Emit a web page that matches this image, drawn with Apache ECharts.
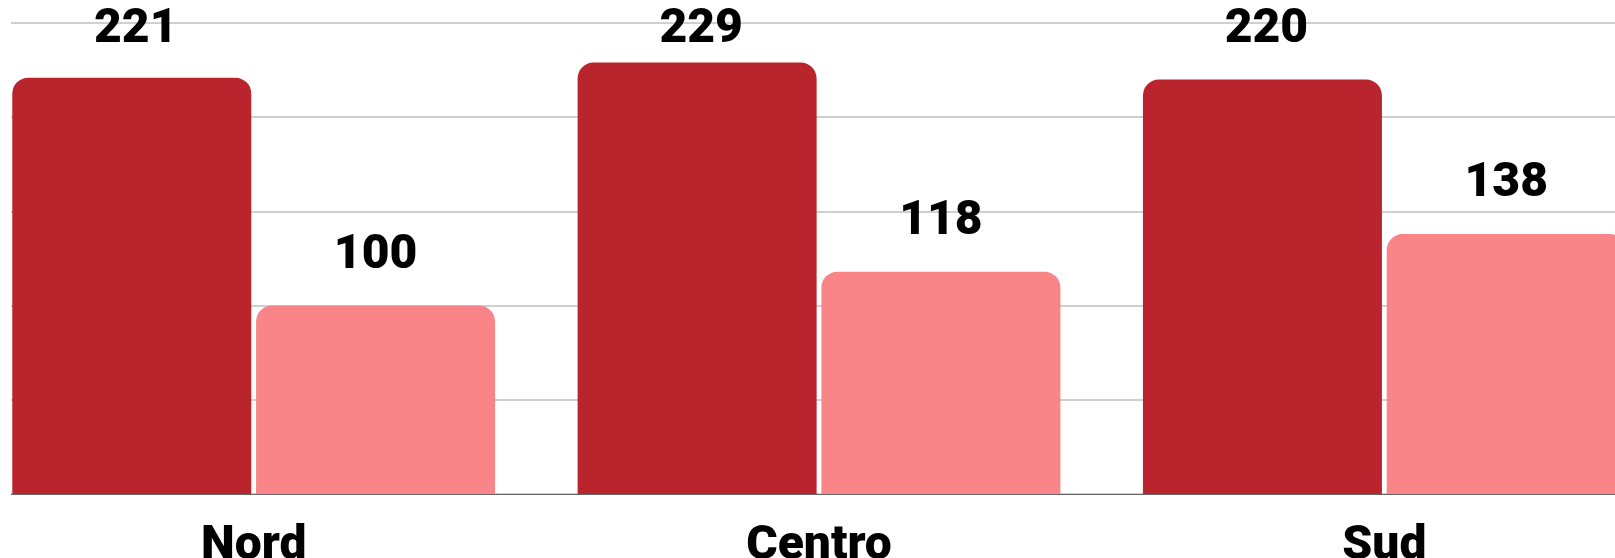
<!DOCTYPE html>
<html>
    <head>
        <meta charset="utf-8">
        <title>Nord Centro Sud</title>
        <script src="https://cdn.jsdelivr.net/npm/echarts@6/dist/echarts.min.js"></script>
        <style>
            html, body { margin: 0; padding: 0; background: #fff; overflow: hidden; }
            /* il grafico è tagliato ai lati come nell'originale */
            #wrap { position: absolute; left: 11px; top: 0; width: 1604px; height: 558px; overflow: hidden; }
            #chart1 { position: absolute; left: -40px; top: 0; width: 1696px; height: 558px; }
        </style>
    </head>
    <body>
        <div id="wrap">
            <div id="chart1"></div>
        </div>
    <script type="text/javascript">
        // dati
        var categories = ['Nord', 'Centro', 'Sud'];
        var serieScura = [221, 229, 220];
        var serieChiara = [100, 118, 138];
        var yTicks = [0, 50, 100, 150, 200, 250];

        var myChart1 = echarts.init(document.getElementById('chart1'));

        var fontLabel = 'Roboto, "Liberation Sans", sans-serif';

        var option = {
            animation: false,
            grid: { left: 0, right: 0, top: 23, bottom: 64, outerBoundsMode: 'none', containLabel: false },
            xAxis: {
                type: 'category',
                data: categories,
                axisTick: { show: false },
                axisLine: { lineStyle: { color: '#666', width: 1 } },
                axisLabel: {
                    color: '#000',
                    fontFamily: fontLabel,
                    fontWeight: 900,
                    fontSize: 48,
                    margin: 29
                }
            },
            yAxis: {
                type: 'value',
                min: yTicks[0],
                max: yTicks[yTicks.length - 1],
                interval: yTicks[1] - yTicks[0],
                axisLabel: { show: false },
                axisLine: { show: false },
                axisTick: { show: false },
                splitLine: { lineStyle: { color: '#bfbfbf', width: 1.5 } }
            },
            series: [{
                name: 'scura',
                type: 'bar',
                data: serieScura,
                barWidth: 239,
                barGap: '2%',
                itemStyle: { color: '#ba252d', borderRadius: [16, 16, 0, 0] },
                label: {
                    show: true,
                    position: 'top',
                    color: '#000',
                    fontFamily: fontLabel,
                    fontWeight: 900,
                    fontSize: 48
                },
                // le etichette della serie scura stanno tutte alla stessa altezza
                labelLayout: function (params) {
                    return {
                        x: params.rect.x + params.rect.width / 2 + 4,
                        y: 6,
                        align: 'center'
                    };
                }
            }, {
                name: 'chiara',
                type: 'bar',
                data: serieChiara,
                barWidth: 239,
                itemStyle: { color: '#fa8589', borderRadius: [16, 16, 0, 0] },
                label: {
                    show: true,
                    position: 'top',
                    distance: 26,
                    color: '#000',
                    fontFamily: fontLabel,
                    fontWeight: 900,
                    fontSize: 48
                }
            }]
        };
        myChart1.setOption(option);
    </script>
    </body>
</html>
